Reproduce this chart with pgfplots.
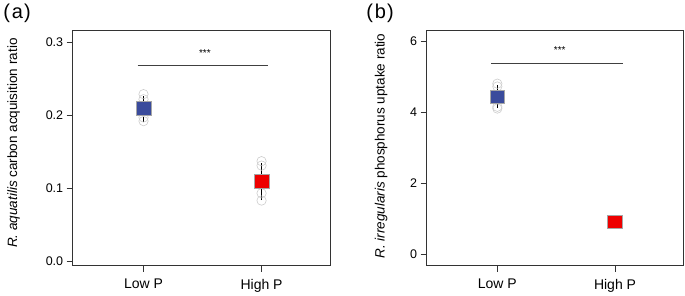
\documentclass[border=0pt]{standalone}
\usepackage{pgfplots}
\pgfplotsset{compat=1.18}
\usepackage{fontspec}
\setmainfont{Liberation Sans}
\definecolor{lowblue}{HTML}{3A4B9C}
\definecolor{highred}{HTML}{EE0000}
\definecolor{frame}{HTML}{333333}
\definecolor{circ}{HTML}{CCCCCC}
\begin{document}
\begin{tikzpicture}
\path[use as bounding box] (0,0) rectangle (685pt,295pt);
\pgfplotsset{
  panel/.style={
    scale only axis,
    anchor=south west,
    axis line style={frame, line width=0.8pt},
    xmin=0.4, xmax=2.58,
    xtick={1,2}, xticklabels={Low P, High P},
    xtick pos=left, ytick pos=left,
    tick align=outside,
    major tick length=6pt,
    tick style={frame, line width=0.8pt},
    /pgf/number format/assume math mode=true,
    yticklabel style={font=\fontsize{12.5}{13}\selectfont},
    xticklabel style={font=\fontsize{14}{15}\selectfont, yshift=-4pt},
    ylabel style={font=\fontsize{13.5}{14}\selectfont, anchor=center},
    clip=false,
  }
}
% Panel (a)
\begin{axis}[panel,
  at={(72.7pt,29.3pt)}, width=257.3pt, height=235.7pt,
  ymin=-0.0064, ymax=0.317,
  ytick={0,0.1,0.2,0.3},
  yticklabels={0.0,0.1,0.2,0.3},
  ylabel={\textit{R. aquatilis} carbon acquisition ratio},
  ylabel style={at={(axis description cs:-0.23,0.52)}},
]
\addplot[only marks, mark=o, mark size=4.7pt, mark options={circ, line width=0.6pt}]
  coordinates {(1,0.229) (1,0.222) (1,0.197) (1,0.192)
               (2,0.137) (2,0.131) (2,0.093) (2,0.083)};
\addplot[black, line width=1pt] coordinates {(1,0.191) (1,0.227)};
\addplot[black, line width=1pt] coordinates {(2,0.0837) (2,0.135)};
\addplot[only marks, mark=square*, mark size=6.7pt,
  mark options={xscale=1.1, fill=lowblue, draw=gray!70, line width=0.5pt}]
  coordinates {(1,0.2095)};
\addplot[only marks, mark=square*, mark size=6.7pt,
  mark options={xscale=1.1, fill=highred, draw=gray!70, line width=0.5pt}]
  coordinates {(2,0.1097)};
\addplot[black!75, line width=0.8pt] coordinates {(0.95,0.268) (2.056,0.268)};
\node[font=\fontsize{10}{10}\selectfont] at (axis cs:1.52,0.285) {***};
\end{axis}
% Panel (b)
\begin{axis}[panel,
  at={(426.7pt,29.3pt)}, width=256.6pt, height=235pt,
  ymin=-0.32, ymax=6.29,
  ytick={0,2,4,6},
  ylabel={\textit{R. irregularis} phosphorus uptake ratio},
  ylabel style={at={(axis description cs:-0.178,0.509)}},
]
\addplot[only marks, mark=o, mark size=4.7pt, mark options={circ, line width=0.6pt}]
  coordinates {(1,4.80) (1,4.72) (1,4.15) (1,4.10)
               (2,0.96) (2,0.88)};
\addplot[black, line width=1pt] coordinates {(1,4.11) (1,4.76)};
\addplot[black, line width=1pt] coordinates {(2,0.88) (2,0.95)};
\addplot[only marks, mark=square*, mark size=6.7pt,
  mark options={xscale=1.1, fill=lowblue, draw=gray!70, line width=0.5pt}]
  coordinates {(1,4.43)};
\addplot[only marks, mark=square*, mark size=6.7pt,
  mark options={xscale=1.1, fill=highred, draw=gray!70, line width=0.5pt}]
  coordinates {(2,0.917)};
\addplot[black!75, line width=0.8pt] coordinates {(0.95,5.37) (2.07,5.37)};
\node[font=\fontsize{10}{10}\selectfont] at (axis cs:1.53,5.75) {***};
\end{axis}
\node[font=\fontsize{20}{20}\selectfont, anchor=center] at (17pt,282pt) {(\kern2pt a\kern1pt)};
\node[font=\fontsize{20}{20}\selectfont, anchor=center] at (380pt,282pt) {(\kern2pt b\kern1pt)};
\end{tikzpicture}
\end{document}
